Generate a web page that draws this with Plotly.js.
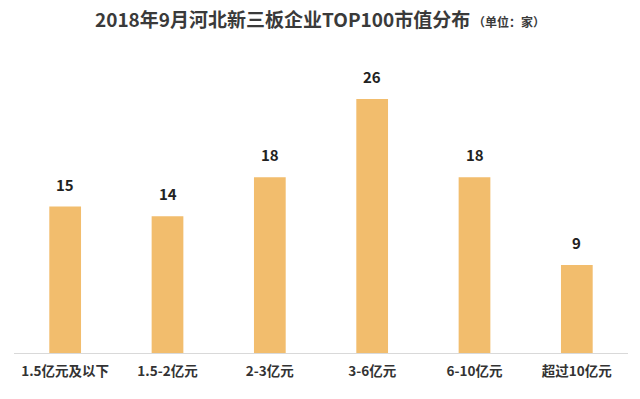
<!DOCTYPE html>
<html>
<head>
<meta charset="utf-8">
<script src="https://cdn.plot.ly/plotly-3.0.1.min.js"></script>
<style>html,body{margin:0;padding:0;background:#fff;}#chart{width:640px;height:399px;}</style>
</head>
<body>
<div id="chart"></div>
<script>
const categories = ["1.5亿元及以下", "1.5-2亿元", "2-3亿元", "3-6亿元", "6-10亿元", "超过10亿元"];
const counts = [15, 14, 18, 26, 18, 9];
const titleMain = "2018年9月河北新三板企业TOP100市值分布";
const titleUnit = "（单位：家）";

const FONT = '"Noto Sans CJK SC", "Microsoft YaHei", sans-serif';

const trace = {
  type: 'bar',
  x: categories,
  y: counts,
  marker: {color: '#F2BD6D'},
  hoverinfo: 'skip'
};

const annotations = categories.map((c, i) => ({
  x: c, y: counts[i], xref: 'x', yref: 'y',
  text: '<b>' + counts[i] + '</b>',
  showarrow: false, yanchor: 'bottom', yshift: 10,
  font: {family: FONT, size: 15, color: '#222222'}
}));

const layout = {
  width: 640, height: 399,
  margin: {l: 14, r: 12, t: 60, b: 46},
  paper_bgcolor: '#ffffff', plot_bgcolor: '#ffffff',
  bargap: 0.69,
  showlegend: false,
  font: {family: FONT, color: '#333333'},
  title: {
    text: '<b>' + titleMain + '</b><span style="font-size:12px;font-weight:bold"> ' + titleUnit + '</span>',
    x: 0.5, xanchor: 'center', y: 0.95, yanchor: 'middle',
    font: {family: FONT, size: 19, color: '#3a3a3a'}
  },
  annotations: annotations,
  xaxis: {
    type: 'category',
    tickvals: categories,
    ticktext: categories.map(c => '<b>' + c + '</b>'),
    tickfont: {family: FONT, size: 13.5, color: '#333333'},
    ticklabelstandoff: 6,
    showline: true, linecolor: '#d9d9d9', linewidth: 1,
    ticks: '', showgrid: false, zeroline: false
  },
  yaxis: {
    range: [0, 30],
    visible: false, showgrid: false, zeroline: false
  }
};

Plotly.newPlot('chart', [trace], layout, {displayModeBar: false, staticPlot: true});
</script>
</body>
</html>
